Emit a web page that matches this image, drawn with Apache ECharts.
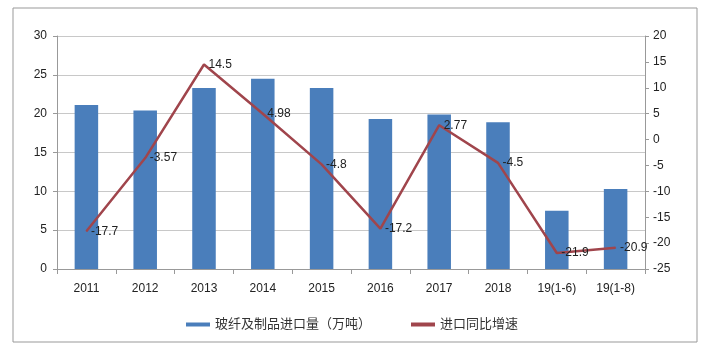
<!DOCTYPE html>
<html>
<head>
<meta charset="utf-8">
<script src="https://cdn.jsdelivr.net/npm/echarts@6/dist/echarts.min.js"></script>
<style>
  body { margin: 0; background: #fff; }
  #chart { width: 704px; height: 354px; }
</style>
</head>
<body>
<div id="chart"></div>
<script>
const categories = ["2011", "2012", "2013", "2014", "2015", "2016", "2017", "2018", "19(1-6)", "19(1-8)"];
const importVolume = [21.1, 20.4, 23.3, 24.5, 23.3, 19.3, 19.9, 18.9, 7.5, 10.3];
const growthRate = [-17.7, -3.57, 14.5, 4.98, -4.8, -17.2, 2.77, -4.5, -21.9, -20.9];

const font = "'Liberation Sans', 'Noto Sans CJK SC', sans-serif";
const myChart = echarts.init(document.getElementById("chart"));
const option = {
  animation: false,
  textStyle: { fontFamily: font },
  graphic: [
    {
      type: "rect",
      shape: { x: 13, y: 8, width: 684, height: 334 },
      style: { fill: "none", stroke: "#999", lineWidth: 1 }
    }
  ],
  grid: { left: 57, right: 59, top: 36, bottom: 85 },
  legend: {
    bottom: 18,
    left: "center",
    itemGap: 40,
    textStyle: { fontSize: 13, color: "#333", fontFamily: font },
    data: [
      { name: "玻纤及制品进口量（万吨）", icon: "rect", itemStyle: { color: "#4a7ebb" } },
      { name: "进口同比增速", icon: "rect", itemStyle: { color: "#a0454c" } }
    ],
    itemWidth: 24,
    itemHeight: 4
  },
  xAxis: {
    type: "category",
    data: categories,
    axisLine: { lineStyle: { color: "#999" } },
    axisTick: { show: true, lineStyle: { color: "#999" } },
    axisLabel: { color: "#222", fontSize: 12, margin: 14 }
  },
  yAxis: [
    {
      type: "value",
      min: 0,
      max: 30,
      interval: 5,
      axisLine: { show: true, lineStyle: { color: "#999" } },
      axisTick: { show: true, length: 4, lineStyle: { color: "#999" } },
      axisLabel: { color: "#222", fontSize: 12, margin: 10 },
      splitLine: { lineStyle: { color: "#c8c8c8" } }
    },
    {
      type: "value",
      min: -25,
      max: 20,
      interval: 5,
      axisLine: { show: true, lineStyle: { color: "#999" } },
      axisTick: { show: true, length: 4, lineStyle: { color: "#999" } },
      axisLabel: { color: "#222", fontSize: 12, margin: 8 },
      splitLine: { show: false }
    }
  ],
  series: [
    {
      name: "玻纤及制品进口量（万吨）",
      type: "bar",
      yAxisIndex: 0,
      barWidth: "40%",
      itemStyle: { color: "#4a7ebb" },
      data: importVolume
    },
    {
      name: "进口同比增速",
      type: "line",
      yAxisIndex: 1,
      symbol: "circle",
      symbolSize: 1,
      showAllSymbol: true,
      lineStyle: { color: "#a0454c", width: 2.5 },
      itemStyle: { color: "#a0454c" },
      label: {
        show: true,
        position: "right",
        distance: 4,
        color: "#222",
        fontSize: 12
      },
      data: growthRate
    }
  ]
};
myChart.setOption(option);
</script>
</body>
</html>
